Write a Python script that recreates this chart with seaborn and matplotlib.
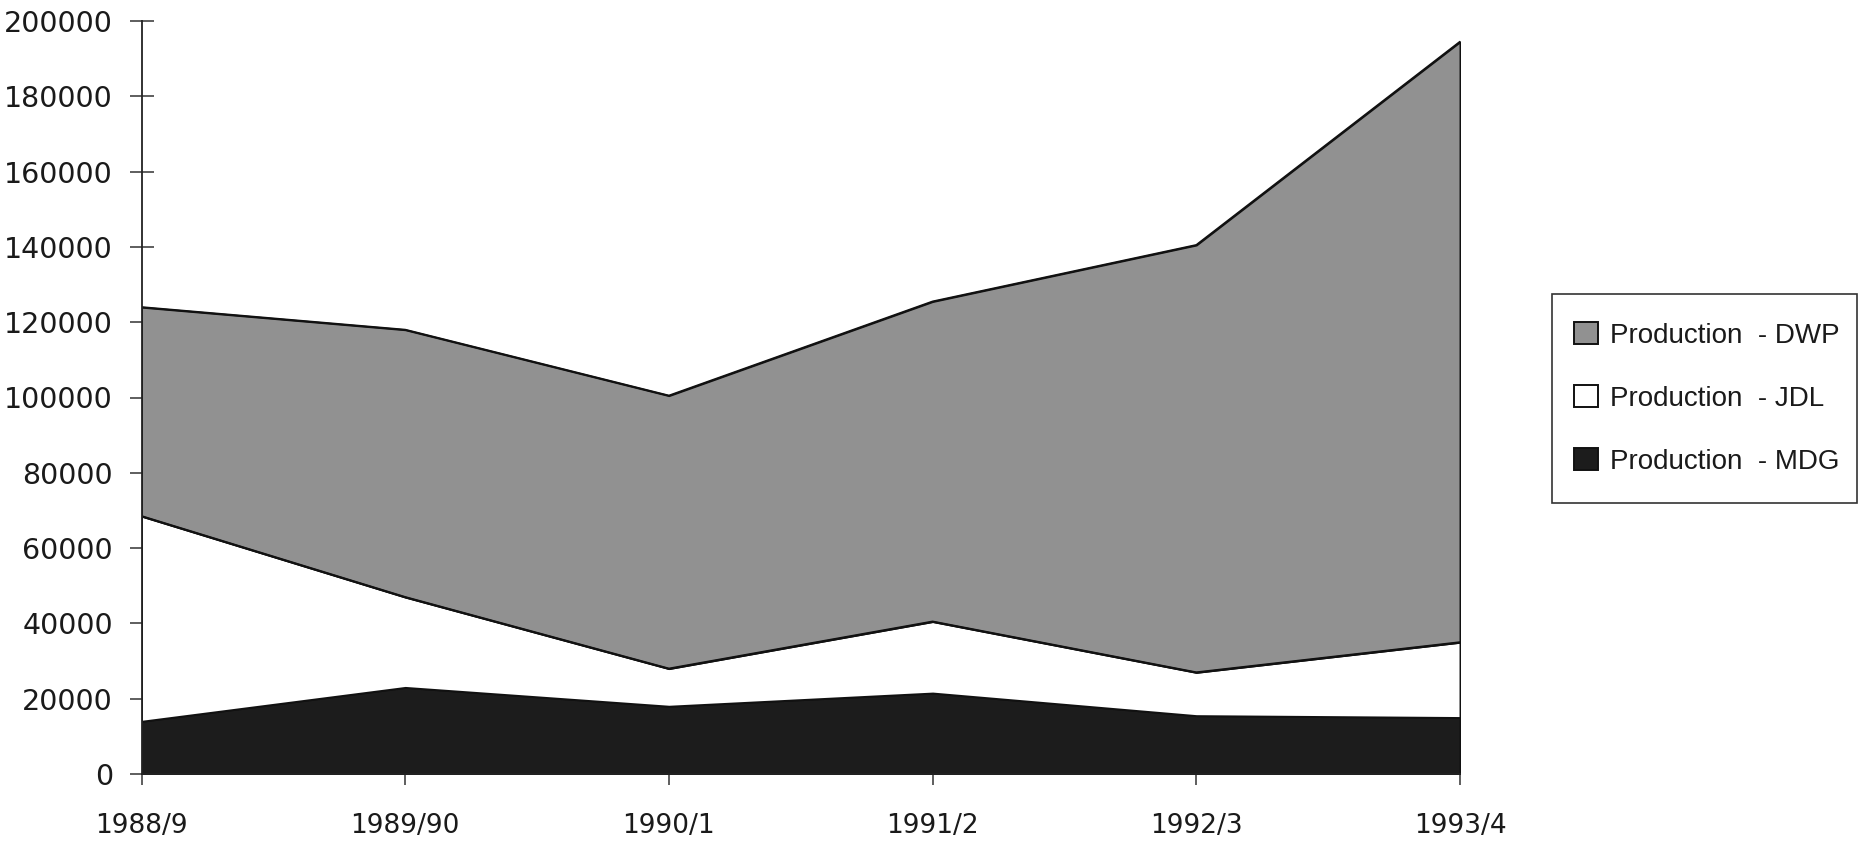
import matplotlib
matplotlib.use("Agg")
import matplotlib.pyplot as plt
import matplotlib.patches as mpatches
import seaborn as sns
import pandas as pd
import numpy as np

# ---- data ----
years = ["1988/9", "1989/90", "1990/1", "1991/2", "1992/3", "1993/4"]
mdg = [14000, 23000, 18000, 21500, 15500, 15000]
jdl = [54500, 24000, 10000, 19000, 11500, 20000]
dwp = [55500, 71000, 72500, 85000, 113500, 159500]
series_names = ["Production  - MDG", "Production  - JDL", "Production  - DWP"]
yticks = [0, 20000, 40000, 60000, 80000, 100000, 120000, 140000, 160000, 180000, 200000]

sns.set_theme(style="white")
plt.rcParams["font.family"] = ["DejaVu Sans"]

df = pd.DataFrame({"year": years, "MDG": mdg, "JDL": jdl, "DWP": dwp})
df["pos"] = np.arange(len(years))
df["top_jdl"] = df["MDG"] + df["JDL"]
df["top_dwp"] = df["top_jdl"] + df["DWP"]

fig = plt.figure(figsize=(18.64, 8.43), dpi=100)
ax = fig.add_axes([141.5 / 1864, 1 - 774 / 843, (1460 - 141.5) / 1864, (774 - 21) / 843])

colors = ["#1c1c1c", "#ffffff", "#919191"]
polys = ax.stackplot(df["pos"], df["MDG"], df["JDL"], df["DWP"],
                     colors=colors, labels=series_names,
                     edgecolor="#111111", linewidth=1.4)

# boundary outlines via seaborn
for col in ["top_jdl", "top_dwp"]:
    sns.lineplot(data=df, x="pos", y=col, ax=ax, color="#111111", linewidth=1.4,
                 legend=False)

ax.set_xlim(0, len(years) - 1)
ax.set_ylim(0, 200000)
ax.set_xticks(df["pos"])
ax.set_xticklabels(years, fontsize=19)
ax.set_yticks(yticks)
ax.set_yticklabels([str(v) for v in yticks], fontsize=20.5)
ax.set_xlabel("")
ax.set_ylabel("")

sns.despine(ax=ax, top=True, right=True)
for s in ["left", "bottom"]:
    ax.spines[s].set_color("#222222")
    ax.spines[s].set_linewidth(1.3)

ax.tick_params(axis="y", direction="inout", length=17, width=1.1, color="#333333",
               pad=12, left=True, labelcolor="#1a1a1a")
ax.tick_params(axis="x", direction="out", length=8, width=1.1, color="#333333",
               pad=20, bottom=True, labelcolor="#1a1a1a")
ax.set_facecolor("white")

# legend order: DWP, JDL, MDG
order = [2, 1, 0]
leg = fig.legend([polys[i] for i in order], [series_names[i] for i in order],
                 loc="center left", bbox_to_anchor=(1552 / 1864, 1 - 398.5 / 843),
                 bbox_transform=fig.transFigure, borderaxespad=0,
                 prop={"family": "Liberation Sans", "size": 20},
                 frameon=False,
                 handlelength=0.85, handleheight=0.8, handletextpad=0.45,
                 labelspacing=1.32, borderpad=0.8)
for t in leg.get_texts():
    t.set_color("#1a1a1a")

# legend frame
frame = mpatches.Rectangle((1552 / 1864, 1 - 503 / 843), 305 / 1864, 209 / 843,
                           transform=fig.transFigure, facecolor="none",
                           edgecolor="#333333", linewidth=1.2, zorder=0)
fig.add_artist(frame)

fig.savefig("out.png", dpi=100, facecolor="white")
